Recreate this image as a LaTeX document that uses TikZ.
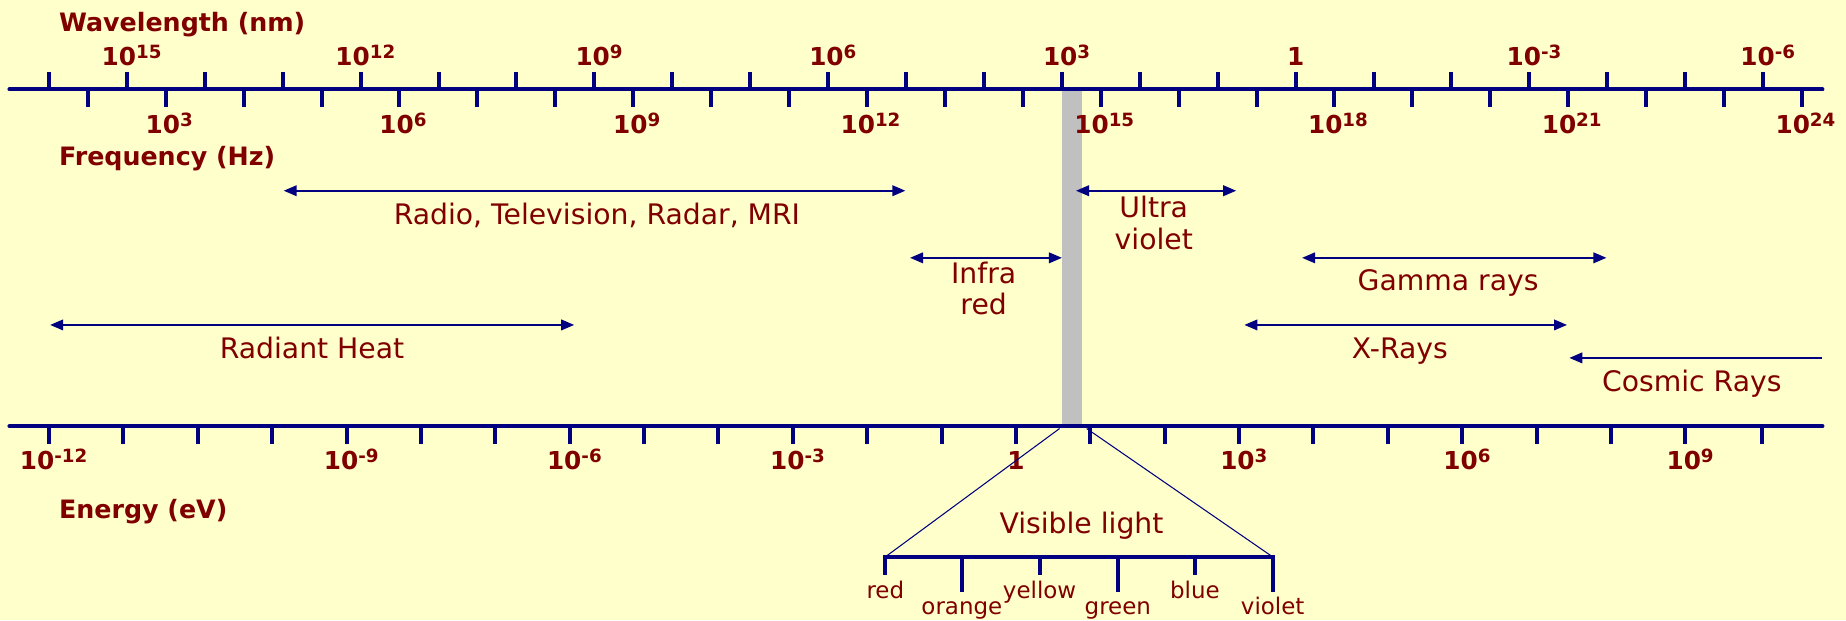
\documentclass[tikz,border=0pt]{standalone}
\usepackage{fontspec}
\setmainfont{DejaVu Sans}
\usetikzlibrary{arrows.meta}
\definecolor{navy}{RGB}{0,0,128}
\definecolor{txt}{RGB}{128,0,0}
\definecolor{bgc}{RGB}{255,255,204}
\definecolor{barc}{RGB}{192,192,192}
\newcommand\pw[1]{10\raisebox{5.5pt}{\fontsize{15.5}{15.5}\selectfont #1}}
\tikzset{
  axisline/.style={draw=navy, line width=3.4pt, line cap=round},
  tickline/.style={draw=navy, line width=3.4pt},
  rng/.style={draw=navy, line width=1.5pt, {Triangle[length=11pt,width=9pt]}-{Triangle[length=11pt,width=9pt]}},
  rngleft/.style={draw=navy, line width=1.5pt, -{Triangle[length=11pt,width=9pt]}},
  thinline/.style={draw=navy, line width=0.9pt},
  lbl/.style={text=txt, font=\fontsize{24}{27}\selectfont, anchor=base, inner sep=0pt},
  num/.style={text=txt, font=\bfseries\fontsize{21}{21}\selectfont, anchor=base, inner sep=0pt},
  axtitle/.style={text=txt, font=\bfseries\fontsize{21.5}{21.5}\selectfont, anchor=base west, inner sep=0pt},
  col/.style={text=txt, font=\fontsize{19.5}{19.5}\selectfont, anchor=base, inner sep=0pt}
}
\begin{document}
\begin{tikzpicture}[x=1pt,y=-1pt]
\fill[bgc] (0,0) rectangle (1568,527);
\useasboundingbox (0,0) rectangle (1568,527);
% visible band
\fill[barc] (902,76) rectangle (919,362);
% ---------- top axis ----------
\coordinate (tl) at (8,76);
\coordinate (tr) at (1548,76);
\draw[axisline] (tl) -- (tr);
\foreach \k in {0,...,22} {
  \draw[tickline] ({41.6+66.18*\k},61) -- ++(0,15);
  \draw[tickline] ({74.6+66.18*\k},76) -- ++(0,15);
}
\node[axtitle] (wltitle) at (50,27) {Wavelength (nm)};
\foreach \k/\t/\o in {1/\pw{15}/4,4/\pw{12}/4,7/\pw{9}/4,10/\pw{6}/4,13/\pw{3}/4,16/1/0,19/\pw{-3}/4,22/\pw{-6}/4}
  \node[num] (wl\k) at ({41.6+66.18*\k+\o},55.5) {\t};
\foreach \k/\t in {1/3,4/6,7/9,10/12,13/15,16/18,19/21,22/24}
  \node[num] (fr\k) at ({74.6+66.18*\k+3},113) {\pw{\t}};
\node[axtitle] (frtitle) at (50,141) {Frequency (Hz)};
% ---------- bottom axis ----------
\coordinate (bl) at (8,362);
\coordinate (br) at (1548,362);
\draw[axisline] (bl) -- (br);
\foreach \k in {0,...,22}
  \draw[tickline] ({41.6+63.18*\k},362) -- ++(0,15);
\draw[tickline] (1497,362) -- ++(0,15);
\foreach \k/\t/\o in {0/\pw{-12}/4,4/\pw{-9}/4,7/\pw{-6}/4,10/\pw{-3}/4,13/1/0,16/\pw{3}/4,19/\pw{6}/4,22/\pw{9}/4}
  \node[num] (en\k) at ({41.6+63.18*\k+\o},398.5) {\t};
\node[axtitle] (entitle) at (50,440) {Energy (eV)};
% ---------- ranges ----------
\coordinate (radioL) at (241,162);  \coordinate (radioR) at (769,162);
\draw[rng] (radioL) -- (radioR);
\node[lbl] (radio) at (507,190.5) {Radio, Television, Radar, MRI};
\coordinate (irL) at (773,219);  \coordinate (irR) at (902,219);
\draw[rng] (irL) -- (irR);
\node[lbl] (ir1) at (835.5,240.5) {Infra};
\node[lbl] (ir2) at (835.5,267.5) {red};
\coordinate (uvL) at (914,162);  \coordinate (uvR) at (1050,162);
\draw[rng] (uvL) -- (uvR);
\node[lbl] (uv1) at (980,184.5) {Ultra};
\node[lbl] (uv2) at (980,211.5) {violet};
\coordinate (gaL) at (1106,219);  \coordinate (gaR) at (1364.5,219);
\draw[rng] (gaL) -- (gaR);
\node[lbl] (gamma) at (1230,246.5) {Gamma rays};
\coordinate (xrL) at (1057,276);  \coordinate (xrR) at (1331,276);
\draw[rng] (xrL) -- (xrR);
\node[lbl] (xray) at (1189,304.5) {X-Rays};
\coordinate (coR) at (1548,304);  \coordinate (coL) at (1333,304);
\draw[rngleft] (coR) -- (coL);
\node[lbl] (cosmic) at (1437,332.5) {Cosmic Rays};
\coordinate (rhL) at (42.6,276);  \coordinate (rhR) at (487.7,276);
\draw[rng] (rhL) -- (rhR);
\node[lbl] (heat) at (265,304.5) {Radiant Heat};
% ---------- visible light ----------
\coordinate (vA) at (900,364);
\coordinate (vB) at (923,364);
\coordinate (vL) at (752,473);
\coordinate (vR) at (1081,473);
\draw[thinline] (vA) -- (vL);
\draw[thinline] (vB) -- (vR);
\draw[axisline, line cap=butt] (vL) -- (vR);
\node[lbl] (vis) at (918.6,453) {Visible light};
\foreach \x/\len/\c/\b/\n in {752/17/red/508/cr,817/31/orange/522/co,883/17/yellow/508/cy,949.5/31/green/522/cg,1015/17/blue/508/cb,1081/31/violet/522/cv}{
  \draw[tickline] (\x,471.5) -- ++(0,\len);
  \node[col] (\n) at (\x,\b) {\c};
}
\end{tikzpicture}
\end{document}
